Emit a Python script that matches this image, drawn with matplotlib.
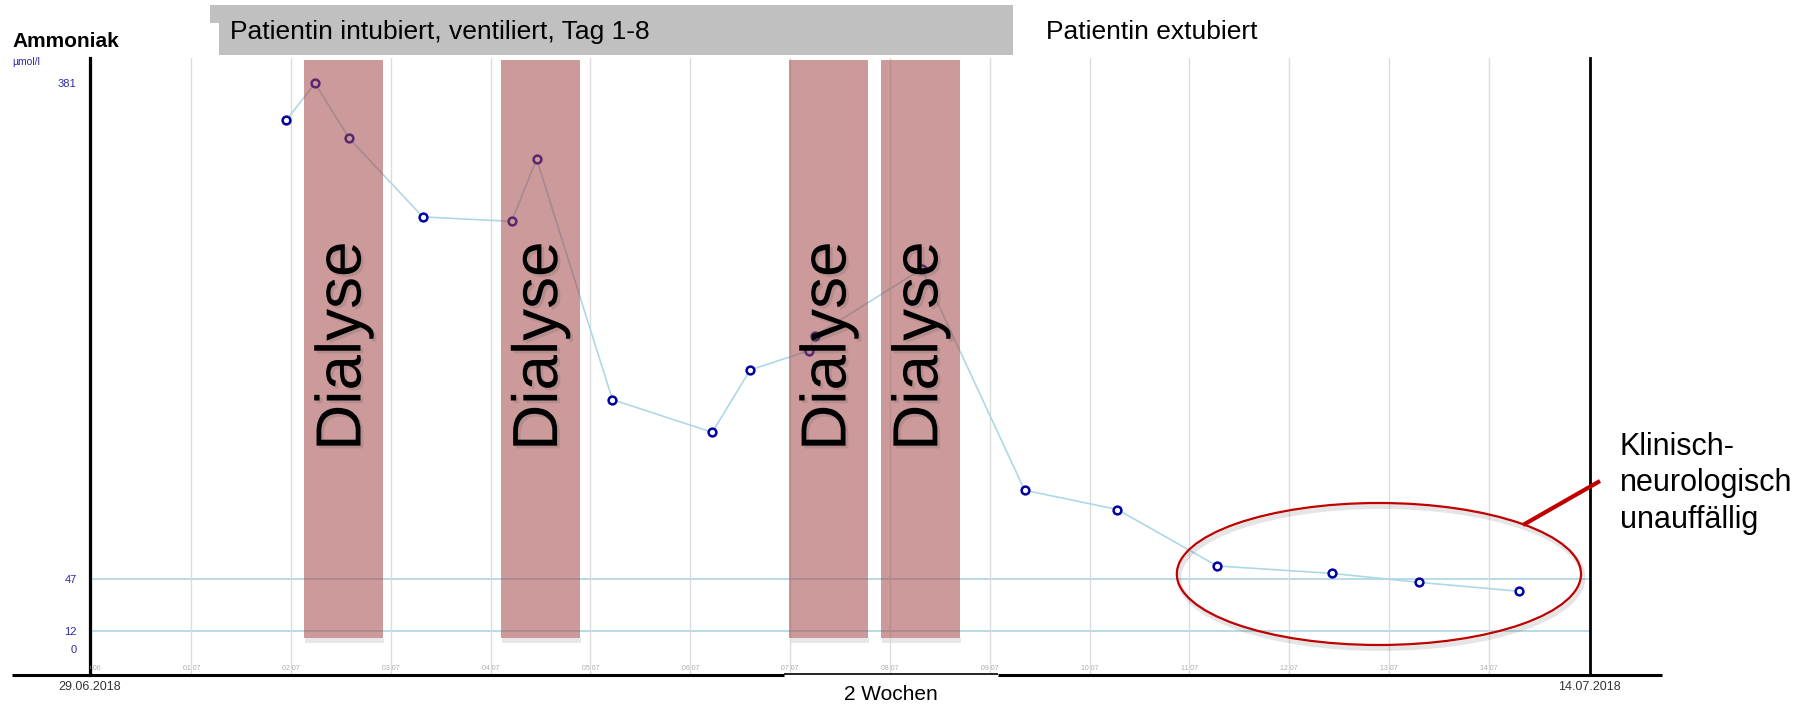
import numpy as np
import matplotlib
matplotlib.use('Agg')
import matplotlib.pyplot as plt
from matplotlib.patches import Rectangle, Ellipse
import matplotlib.patheffects as pe

plt.rcParams['font.family'] = ['Liberation Sans', 'DejaVu Sans']

# Messwerte: Tage seit 30.06.2018, Ammoniak in umol/l
tage = [1.95, 2.24, 2.58, 3.32, 4.21, 4.46, 5.22, 6.22, 6.60, 7.19, 7.25,
        8.32, 9.35, 10.28, 11.28, 12.43, 13.30, 14.30]
ammoniak = [356, 381, 344, 291, 288, 330, 168, 146, 188, 201, 211,
            256, 107, 94, 56, 51, 45, 39]

# Dialysen (Beginn in Tagen, Dauer in Tagen)
dialyse_start = [2.13, 4.10, 6.99, 7.91]
dialyse_dauer = [0.79, 0.79, 0.79, 0.79]

ref_linien = [47, 12]
y_ticks = [0, 12, 47, 381]
datum_labels = ['30 06', '01 07', '02 07', '03 07', '04 07', '05 07', '06 07',
                '07 07', '08 07', '09 07', '10 07', '11 07', '12 07', '13 07', '14 07']

W, H = 1816, 704
fig = plt.figure(figsize=(W / 100, H / 100), dpi=100)

ax = fig.add_axes([90 / W, 1 - 675 / H, (1589.5 - 90) / W, (675 - 58) / H])
ax.set_xlim(-0.015, 15.01)
ax.set_ylim(-17.4, 398)

for s in ['top', 'bottom']:
    ax.spines[s].set_visible(False)
ax.spines['left'].set_linewidth(2.3)
ax.spines['right'].set_linewidth(2.0)

ax.set_xticks(range(len(datum_labels)))
ax.grid(axis='x', color='#dcdcdc', lw=1.0, zorder=0)
ax.tick_params(axis='x', length=0, labelbottom=False)
ax.set_yticks(y_ticks)
ax.set_yticklabels([str(v) for v in y_ticks])
ax.tick_params(axis='y', length=0, pad=9.5, labelsize=8, labelcolor='#2a2aa8')

for i, lab in enumerate(datum_labels):
    ax.text(i, 0.0113, lab, transform=ax.get_xaxis_transform(), ha='center', va='center',
            fontsize=5, color='#ababab', clip_on=True)

for v in ref_linien:
    ax.axhline(v, color='#a9d5e3', lw=1.2, zorder=1)

ax.plot(tage, ammoniak, color='#aed8e6', lw=1.2, zorder=2,
        marker='o', ms=5.6, mfc='white', mec='#0000a0', mew=1.8)

for s, d in zip(dialyse_start, dialyse_dauer):
    ax.add_patch(Rectangle((s + 0.01, 4.0), d, 3.5, fc='#d8d8d8', ec='none', alpha=0.6, zorder=2.5))
    ax.add_patch(Rectangle((s, 7.5), d, 389.2, fc='#a34747', ec='none', alpha=0.55, zorder=3))
    ax.text(s + d / 2, 204, 'Dialyse', rotation=90, ha='center', va='center', fontsize=46,
            zorder=4, path_effects=[pe.SimplePatchShadow(offset=(2, -2), alpha=0.18, shadow_rgbFace='#555555'),
                                    pe.Normal()])

ax.add_patch(Ellipse((12.92, 48.2), 4.05, 95.6, fill=False, ec='black', lw=3.5, alpha=0.1, zorder=4.9))
ax.add_patch(Ellipse((12.90, 50.6), 4.05, 95.6, fill=False, ec='#c00000', lw=1.6, zorder=5))

# Beschriftungen in Pixelkoordinaten
ov = fig.add_axes([0, 0, 1, 1])
ov.set_xlim(0, W)
ov.set_ylim(H, 0)
ov.axis('off')

ov.add_patch(Rectangle((210, 5), 803, 18, fc='#c0c0c0', ec='none'))
ov.add_patch(Rectangle((219, 23), 794, 32, fc='#c0c0c0', ec='none'))
ov.text(230, 39.3, 'Patientin intubiert, ventiliert, Tag 1-8', fontsize=19, va='baseline')
ov.text(1046, 39.3, 'Patientin extubiert', fontsize=19, va='baseline')

ov.text(12, 46.7, 'Ammoniak', fontsize=15, fontweight='bold', va='baseline')
ov.text(12, 65, 'µmol/l', fontsize=7.5, color='#2a2aa8', va='baseline')

ov.plot([12, 784], [675, 675], color='black', lw=2.2, solid_capstyle='butt')
ov.plot([784, 998], [674, 674], color='black', lw=1.2, solid_capstyle='butt')
ov.plot([998, 1662], [675, 675], color='black', lw=2.2, solid_capstyle='butt')

ov.text(90, 690, '29.06.2018', fontsize=9, color='#333333', ha='center', va='baseline')
ov.text(1589, 690, '14.07.2018', fontsize=9, color='#333333', ha='center', va='baseline')
ov.text(891, 700, '2 Wochen', fontsize=15, ha='center', va='baseline')

ov.plot([1523, 1600], [525, 481], color='#c00000', lw=3, solid_capstyle='butt')
for y, zeile in zip([455, 491.5, 528], ['Klinisch-', 'neurologisch', 'unauffällig']):
    ov.text(1620, y, zeile, fontsize=22, va='baseline')

plt.savefig('out.png', dpi=100)
